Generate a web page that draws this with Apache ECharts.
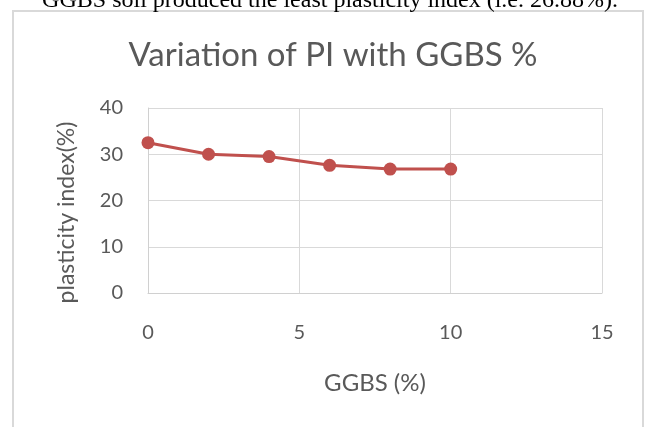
<!DOCTYPE html>
<html>
<head>
<meta charset="utf-8">
<script src="https://cdn.jsdelivr.net/npm/echarts@6/dist/echarts.min.js"></script>
<style>
html,body{margin:0;padding:0;background:#fff;}
#c{width:646px;height:427px;}
</style>
</head>
<body>
<div id="c"></div>
<script>
const ggbs = [0, 2, 4, 6, 8, 10];
const plasticityIndex = [32.5, 30.0, 29.5, 27.6, 26.8, 26.8];
const titleText = 'Variation of PI with GGBS %';
const xTitle = 'GGBS (%)';
const yTitle = 'plasticity index(%)';
const aboveText = 'GGBS soil produced the least plasticity index (i.e. 26.88%).';

const chart = echarts.init(document.getElementById('c'));
const txt = '#595959';
chart.setOption({
  animation: false,
  backgroundColor: '#fff',
  title: {
    text: titleText, left: 328, top: 34, textAlign: 'center',
    textStyle: {fontFamily: 'Lato', fontSize: 33, fontWeight: 'normal', color: txt}
  },
  grid: {left: 148, right: 44, top: 108, bottom: 134},
  xAxis: {
    type: 'value', min: 0, max: 15, interval: 5,
    name: xTitle, nameLocation: 'middle', nameGap: 78,
    nameTextStyle: {fontFamily: 'Lato', fontSize: 24, color: txt},
    axisLine: {show: true, lineStyle: {color: '#d0d0d0', width: 1}},
    axisTick: {show: false},
    axisLabel: {margin: 30, fontFamily: 'Lato', fontSize: 20, color: txt},
    splitLine: {show: true, lineStyle: {color: '#d9d9d9', width: 1}}
  },
  yAxis: {
    type: 'value', min: 0, max: 40, interval: 10,
    axisLine: {show: true, lineStyle: {color: '#d0d0d0', width: 1}},
    axisTick: {show: false},
    axisLabel: {margin: 25, fontFamily: 'Lato', fontSize: 20, color: txt},
    splitLine: {show: true, lineStyle: {color: '#d9d9d9', width: 1}}
  },
  series: [{
    type: 'line',
    data: ggbs.map((g, i) => [g, plasticityIndex[i]]),
    symbol: 'circle', symbolSize: 13,
    lineStyle: {color: '#c0504d', width: 3},
    itemStyle: {color: '#c0504d'}
  }],
  graphic: [
    {type: 'rect', shape: {x: 13, y: 11, width: 630, height: 430},
     style: {fill: 'none', stroke: '#d9d9d9', lineWidth: 2}, silent: true},
    {type: 'text', x: 618, y: 13,
     style: {text: aboveText, font: '24px "Liberation Serif"', fill: '#000',
             textAlign: 'right', textVerticalAlign: 'bottom'}, silent: true},
    {type: 'text', x: 66.5, y: 212.5, rotation: Math.PI / 2,
     style: {text: yTitle, font: '23px Lato', fill: txt,
             textAlign: 'center', textVerticalAlign: 'middle'}, silent: true}
  ]
});
</script>
</body>
</html>
